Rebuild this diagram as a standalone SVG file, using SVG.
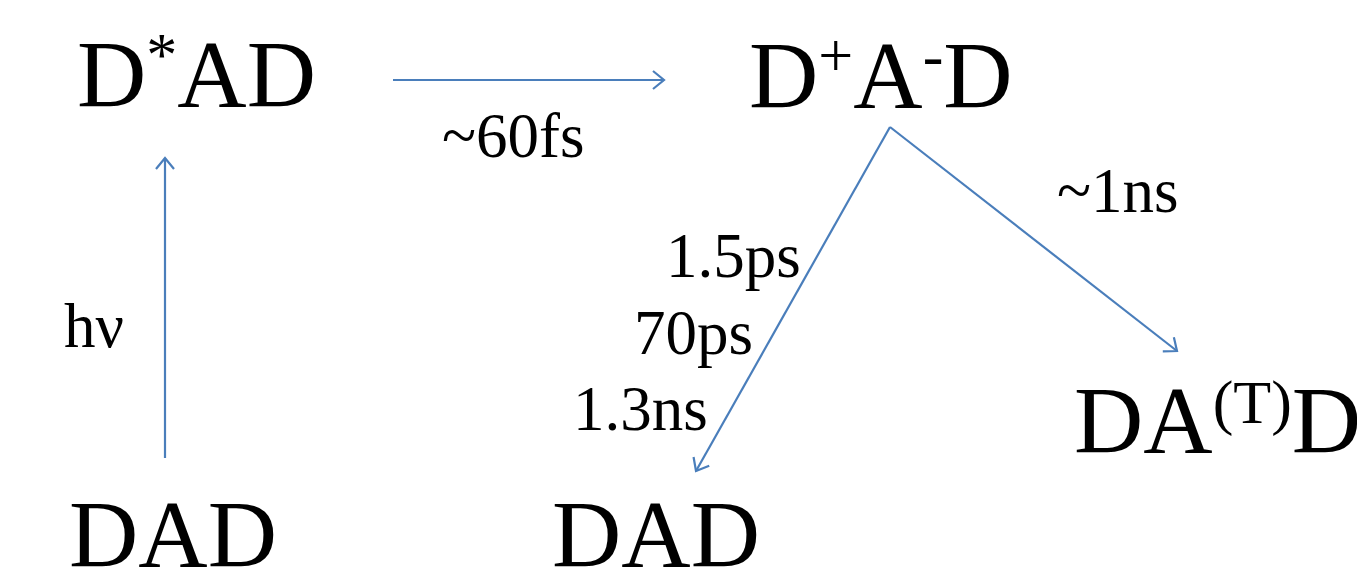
<svg xmlns="http://www.w3.org/2000/svg" width="1357" height="576" viewBox="0 0 1357 576">
<style>
.big{font-family:"Liberation Serif","Times New Roman",serif;font-size:96px;fill:#000}
.lbl{font-family:"Liberation Serif","Times New Roman",serif;font-size:63px;fill:#000}
.sup{font-size:62px}
.conn{stroke:#4a7ebb;stroke-width:2.2;fill:none}
</style>
<defs>
<marker id="ah" markerUnits="userSpaceOnUse" markerWidth="30" markerHeight="30" viewBox="-15 -15 30 30" refX="0" refY="0" orient="auto">
<path d="M-11,-9 L0,0 L-11,9" stroke="#4a7ebb" stroke-width="2.2" fill="none"/>
</marker>
</defs>
<rect width="1357" height="576" fill="#fff"/>
<g id="connectors">
<line class="conn" x1="393" y1="80" x2="664" y2="80" marker-end="url(#ah)"/>
<line class="conn" x1="165" y1="458" x2="165" y2="158" marker-end="url(#ah)"/>
<line class="conn" x1="890" y1="127" x2="696" y2="471" marker-end="url(#ah)"/>
<line class="conn" x1="890" y1="127" x2="1177" y2="351" marker-end="url(#ah)"/>
</g>
<g id="node-DstarAD"><text class="big" x="77" y="107">D<tspan class="sup" dy="-32">*</tspan><tspan dy="32">AD</tspan></text></g>
<g id="node-DpAmD"><text class="big" x="749" y="108">D<tspan class="sup" dy="-32">+</tspan><tspan dy="32">A</tspan><tspan class="sup" dy="-32">-</tspan><tspan dy="32">D</tspan></text></g>
<g id="node-DATD"><text class="big" x="1074" y="453">DA<tspan class="sup" dy="-30">(T)</tspan><tspan dy="30">D</tspan></text></g>
<g id="node-DAD1"><text class="big" x="69" y="567">DAD</text></g>
<g id="node-DAD2"><text class="big" x="552" y="567">DAD</text></g>
<g id="labels">
<text class="lbl" x="442" y="157">~60fs</text>
<text class="lbl" x="1057" y="212">~1ns</text>
<text class="lbl" x="666" y="277">1.5ps</text>
<text class="lbl" x="634" y="354">70ps</text>
<text class="lbl" x="573" y="430">1.3ns</text>
<text class="lbl" x="64" y="347">hν</text>
</g>
</svg>
